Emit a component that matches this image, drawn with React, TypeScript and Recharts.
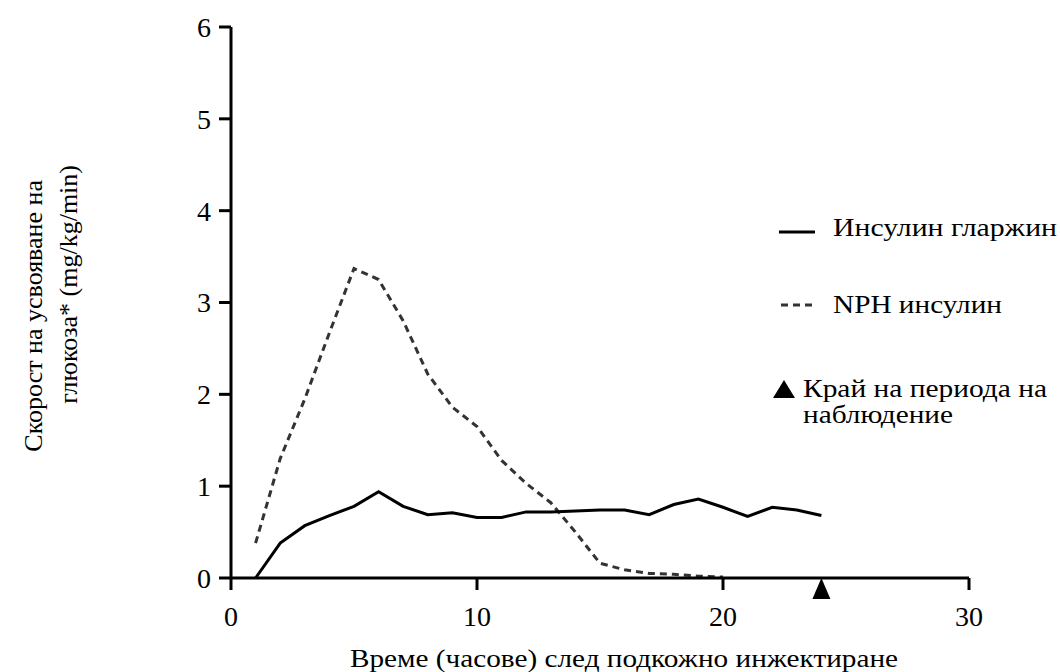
import {
  ComposedChart,
  Label,
  Line,
  Scatter,
  XAxis,
  YAxis,
} from "recharts";

const hours = [1, 2, 3, 4, 5, 6, 7, 8, 9, 10, 11, 12, 13, 14, 15, 16, 17, 18, 19, 20, 21, 22, 23, 24];
const glargine = [0, 0.38, 0.57, 0.68, 0.78, 0.94, 0.78, 0.69, 0.71, 0.66, 0.66, 0.72, 0.72, 0.73, 0.74, 0.74, 0.69, 0.8, 0.86, 0.77, 0.67, 0.77, 0.74, 0.68];
const nph = [0.38, 1.3, 1.95, 2.67, 3.37, 3.25, 2.8, 2.22, 1.86, 1.65, 1.28, 1.03, 0.82, 0.5, 0.16, 0.09, 0.05, 0.04, 0.02, 0.01, null, null, null, null];
const endOfObservation = [{ hour: 24, value: 0 }];
const xTicks = [0, 10, 20, 30];
const yTicks = [0, 1, 2, 3, 4, 5, 6];

const FONT = "'Liberation Serif', 'Times New Roman', serif";

const data = hours.map((h, i) => ({ hour: h, glargine: glargine[i], nph: nph[i] }));

const Triangle = (props: any) => {
  const { cx, cy } = props;
  return <path d={`M${cx},${cy} L${cx + 9},${cy + 21} L${cx - 9},${cy + 21} Z`} fill="#000" />;
};

// legend drawn as an svg overlay on top of the chart
const LegendOverlay = () => (
  <svg
    width={1060}
    height={672}
    style={{ position: "absolute", left: 0, top: 0, pointerEvents: "none" }}
  >
    <g fontSize={25} fill="#000">
      <line x1={779} y1={232} x2={815} y2={232} stroke="#000" strokeWidth={3} />
      <text x={833} y={236} fontFamily={FONT} textLength={224} lengthAdjust="spacingAndGlyphs">
        Инсулин гларжин
      </text>
      <line x1={781} y1={305} x2={815} y2={305} stroke="#333" strokeWidth={3} strokeDasharray="7 5" />
      <text x={833} y={313} fontFamily={FONT} textLength={169} lengthAdjust="spacingAndGlyphs">
        NPH инсулин
      </text>
      <path d="M784,380 L795,398 L773,398 Z" fill="#000" />
      <text x={803} y={397} fontFamily={FONT} textLength={244} lengthAdjust="spacingAndGlyphs">
        Край на периода на
      </text>
      <text x={803} y={423} fontFamily={FONT} textLength={150} lengthAdjust="spacingAndGlyphs">
        наблюдение
      </text>
    </g>
  </svg>
);

export default function App() {
  return (
    <div
      style={{
        position: "absolute",
        left: 0,
        top: 0,
        width: 1060,
        height: 672,
        background: "#fff",
        fontFamily: FONT,
      }}
    >
      <ComposedChart
        width={1060}
        height={672}
        data={data}
        margin={{ top: 27, right: 91, left: 191, bottom: 34 }}
      >
        <XAxis
          dataKey="hour"
          type="number"
          domain={[0, 30]}
          ticks={xTicks}
          height={60}
          tickSize={12}
          tickMargin={16}
          stroke="#000"
          strokeWidth={3}
          tick={{ fill: "#000", fontSize: 28, fontFamily: FONT }}
        >
          <Label
            content={() => (
              <text
                x={350}
                y={667}
                fontFamily={FONT}
                fontSize={26}
                fill="#000"
                textLength={548}
                lengthAdjust="spacingAndGlyphs"
              >
                Време (часове) след подкожно инжектиране
              </text>
            )}
          />
        </XAxis>
        <YAxis
          type="number"
          domain={[0, 6]}
          ticks={yTicks}
          width={40}
          tickSize={12}
          tickMargin={8}
          stroke="#000"
          strokeWidth={3}
          tick={{ fill: "#000", fontSize: 28, fontFamily: FONT }}
        >
          <Label
            content={() => (
              <g fontSize={26} fill="#000">
                <text x={42} y={180} fontFamily={FONT} transform="rotate(-90, 42, 180)" textAnchor="end">
                  Скорост на усвояване на
                </text>
                <text x={77} y={165} fontFamily={FONT} transform="rotate(-90, 77, 165)" textAnchor="end">
                  глюкоза* (mg/kg/min)
                </text>
              </g>
            )}
          />
        </YAxis>
        <Line
          dataKey="nph"
          type="linear"
          stroke="#333"
          strokeWidth={3}
          strokeDasharray="7 5"
          dot={false}
          isAnimationActive={false}
        />
        <Line
          dataKey="glargine"
          type="linear"
          stroke="#000"
          strokeWidth={3}
          dot={false}
          isAnimationActive={false}
        />
        <Scatter
          data={endOfObservation}
          dataKey="value"
          shape={<Triangle />}
          isAnimationActive={false}
        />
      </ComposedChart>
      <LegendOverlay />
    </div>
  );
}
